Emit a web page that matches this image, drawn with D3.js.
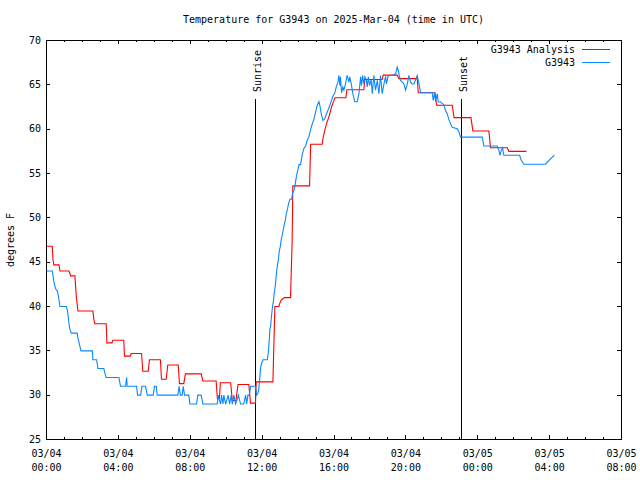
<!DOCTYPE html>
<html><head><meta charset="utf-8">
<script src="https://cdn.jsdelivr.net/npm/d3@7"></script>
<style>
body{margin:0;background:#fff}
svg{display:block}
text{font-family:"DejaVu Sans Mono","Liberation Mono",monospace;font-size:10px;fill:#000}
</style>
</head><body>
<svg id="c" width="640" height="480"></svg>
<script>
// ---- data (hours since 2025-03-04 00:00 UTC, temperature in °F) ----
const titleText = "Temperature for G3943 on 2025-Mar-04 (time in UTC)";
const yLabel = "degrees F";
const seriesNames = ["G3943 Analysis", "G3943"];
const seriesColors = ["#ff0000", "#0a88ff"];

const analysisHours = [0,0.32,0.36,0.41,0.69,0.75,1.25,1.31,1.34,1.58,1.66,1.75,2.58,2.64,2.69,3.32,3.36,3.65,3.69,4.30,4.34,4.66,4.71,5.29,5.36,5.66,5.73,6.34,6.40,6.66,6.75,7.33,7.40,7.64,7.73,8.61,8.70,9.44,9.51,9.62,9.68,10.25,10.34,10.54,10.66,11.26,11.35,11.63,11.67,12.60,12.71,12.93,12.99,13.06,13.16,13.27,13.58,13.67,13.71,14.64,14.70,15.34,15.40,15.49,15.58,15.72,15.86,16.00,16.06,16.66,16.72,17.66,17.72,18.68,18.74,19.52,19.61,20.63,20.69,21.62,21.71,22.58,22.68,23.62,23.73,24.62,24.71,25.64,25.73,26.71];
const analysisTemps = [46.8,46.8,45.3,44.7,44.7,44.0,44.0,43.7,43.45,43.45,41.1,39.5,39.5,38.5,38.05,38.05,35.9,35.9,36.2,36.2,34.4,34.4,34.7,34.7,32.7,32.7,34.0,34.0,31.8,31.8,33.4,33.4,31.3,31.3,32.4,32.4,31.6,31.6,29.6,29.6,31.4,31.4,29.4,29.4,31.2,31.2,29.1,29.1,31.5,31.5,40.0,40.0,40.4,40.7,40.9,41.0,41.0,47.3,53.6,53.6,58.3,58.3,59.1,59.9,60.6,61.4,62.5,63.25,63.55,63.55,64.45,64.45,65.6,65.6,66.1,66.1,65.7,65.7,64.1,64.1,62.7,62.7,61.3,61.3,59.8,59.8,57.9,57.9,57.5,57.5];

const obsHours = [0,0.32,0.37,0.41,0.47,0.52,0.60,0.65,0.71,0.75,1.10,1.16,1.20,1.23,1.27,1.33,1.38,1.71,1.75,1.80,1.86,1.92,2.55,2.58,2.79,2.86,3.19,3.31,4.03,4.12,4.40,4.46,4.49,5.01,5.07,5.24,5.31,5.51,5.61,5.94,6.01,6.11,6.16,7.31,7.38,7.45,7.55,7.61,7.68,7.92,7.98,8.35,8.42,8.61,8.70,9.50,9.56,9.61,9.69,9.74,9.82,9.87,9.97,10.11,10.19,10.28,10.34,10.43,10.52,10.61,10.68,10.80,10.98,11.08,11.14,11.21,11.29,11.36,11.63,11.69,11.77,11.82,11.88,11.91,11.97,12.05,12.29,12.34,12.40,12.43,12.47,12.52,12.58,12.64,12.67,12.73,12.78,12.84,12.90,12.95,13.01,13.06,13.12,13.17,13.23,13.29,13.34,13.42,13.47,13.55,13.64,13.71,13.77,13.82,13.86,13.92,13.99,14.05,14.14,14.23,14.32,14.42,14.51,14.60,14.69,14.79,14.88,14.97,15.07,15.16,15.21,15.29,15.38,15.47,15.56,15.66,15.77,15.86,15.96,16.05,16.12,16.22,16.27,16.33,16.36,16.42,16.49,16.55,16.64,16.73,16.83,16.88,16.96,17.05,17.15,17.29,17.39,17.48,17.53,17.59,17.66,17.72,17.80,17.85,17.91,17.98,18.07,18.13,18.22,18.31,18.41,18.50,18.59,18.68,18.78,18.87,18.92,19.00,19.07,19.24,19.43,19.52,19.58,19.63,19.70,19.80,19.89,19.98,20.08,20.17,20.26,20.35,20.45,20.63,20.73,20.82,21.47,21.52,21.60,21.65,21.75,21.80,21.93,22.11,22.21,22.30,22.39,22.49,22.58,22.86,22.95,23.04,24.25,24.34,25.08,25.18,25.23,25.31,25.38,25.45,25.55,26.33,26.42,26.57,27.76,28.26];
const obsTemps = [44,44,43.4,42.8,42.25,41.95,41.76,41.3,40.56,40,40,39.6,39.06,38.5,37.75,37.26,37,37,36.44,36,35.5,35,35,34,34,33,33,32,32,31,31,32,31,31,30,30,31,31,30,30,31,31,30,30,31,30,30,31,30,30,29,29,30,30,29,29,30,29.5,29,30,29,30,29,30,29,30,29,30,29,29.5,30,29,29,30,29,30,30,31,31,30,30.25,30.8,32.1,33.07,33.6,34,34,34.75,36.25,37.4,37.75,38.9,40,40.75,41.5,42.25,43.4,44.5,45.25,46.2,46.75,47.5,48.06,48.6,49.2,49.75,50.4,51.06,51.6,52.1,52.1,52.9,53.1,53.5,54.06,54.8,55.4,56,56,57.06,57.8,58.1,58.75,59.1,59.9,60.6,61.1,61.9,62.7,63.1,62.7,61.75,61,61.1,61.6,62.1,62.7,63.25,63.8,64.1,64.75,65.3,66.06,64.9,65.9,64.1,64.75,64.4,65.1,66.06,65.3,65.9,65.1,64,63.1,63.1,64,65.9,64.9,66.06,65.1,65.9,65.5,64.75,65.9,64.9,65.6,64,66.06,64.4,65.5,64,66.06,64,65.1,65.95,65.1,65.9,66.06,66.06,66.25,67,66.6,66.06,65.5,65.3,65.1,64.4,65.1,66.06,65.3,65.1,65.1,66.06,65.1,64.1,64.1,63.25,64.1,63.1,64,63.06,63.06,62.76,62.1,61.75,61.1,60.6,60.2,60.06,59.7,59.1,59.1,58.1,58.1,57.6,57.06,57.6,57.9,57.06,57.06,57.06,56.5,56.05,56.05,57.06];

const sunHours = [11.63, 23.1];
const sunLabels = ["Sunrise", "Sunset"];

const majorTickHours = [0,4,8,12,16,20,24,28,32];
const tickDateLabels = ["03/04","03/04","03/04","03/04","03/04","03/04","03/05","03/05","03/05"];
const tickTimeLabels = ["00:00","04:00","08:00","12:00","16:00","20:00","00:00","04:00","08:00"];
const minorTickHours = d3.range(0, 33, 1);
const yTickValues = [25,30,35,40,45,50,55,60,65,70];

// ---- drawing ----
const svg = d3.select("#c");
svg.append("rect").attr("width",640).attr("height",480).attr("fill","#fff");

const x = d3.scaleLinear().domain([0,32]).range([46,621]);
const y = d3.scaleLinear().domain([25,70]).range([439,40]);

const axesG = svg.append("g");
axesG.append("g").attr("transform","translate(0,439)")
  .call(d3.axisBottom(x).tickValues(minorTickHours).tickSize(-2).tickFormat(""))
  .call(g=>g.select(".domain").remove());
axesG.append("g").attr("transform","translate(0,40)")
  .call(d3.axisTop(x).tickValues(minorTickHours).tickSize(-2).tickFormat(""))
  .call(g=>g.select(".domain").remove());
const xb = axesG.append("g").attr("transform","translate(0,439)")
  .call(d3.axisBottom(x).tickValues(majorTickHours).tickSize(-4).tickFormat((d,i)=>tickDateLabels[i]))
  .call(g=>g.select(".domain").remove());
xb.selectAll(".tick text").each(function(d,i){
  const t = d3.select(this);
  t.text(null).attr("y",null).attr("dy",null);
  t.append("tspan").attr("x",0).attr("y",18).text(tickDateLabels[i]);
  t.append("tspan").attr("x",0).attr("y",32).text(tickTimeLabels[i]);
});
axesG.append("g").attr("transform","translate(0,40)")
  .call(d3.axisTop(x).tickValues(majorTickHours).tickSize(-4).tickFormat(""))
  .call(g=>g.select(".domain").remove());
axesG.append("g").attr("transform","translate(46,0)")
  .call(d3.axisLeft(y).tickValues(yTickValues).tickSize(-4).tickPadding(5))
  .call(g=>g.select(".domain").remove());
axesG.append("g").attr("transform","translate(621,0)")
  .call(d3.axisRight(y).tickValues(yTickValues).tickSize(-4).tickFormat(""))
  .call(g=>g.select(".domain").remove());
axesG.selectAll(".tick line").attr("stroke","#000").attr("shape-rendering","crispEdges");
axesG.selectAll("g").attr("font-family",null).attr("font-size",null);
axesG.selectAll("text").attr("fill","#000");

svg.append("rect").attr("x",46.5).attr("y",40.5).attr("width",575).attr("height",399)
  .attr("fill","none").attr("stroke","#000").attr("shape-rendering","crispEdges");

sunHours.forEach((h,i)=>{
  const sx = Math.round(x(h)) + 0.5;
  svg.append("line").attr("x1",sx).attr("x2",sx).attr("y1",99).attr("y2",439)
    .attr("stroke","#000").attr("stroke-width",1).attr("shape-rendering","crispEdges");
  svg.append("text").attr("transform",`translate(${sx+5},92) rotate(-90)`)
    .attr("text-anchor","start").text(sunLabels[i]);
});

const line = d3.line().x(d=>x(d[0])+0.5).y(d=>y(d[1])+0.5);
const analysisData = analysisHours.map((h,i)=>[h, analysisTemps[i]]);
const obsData = obsHours.map((h,i)=>[h, obsTemps[i]]);
svg.append("path").datum(analysisData).attr("d",line)
  .attr("fill","none").attr("stroke",seriesColors[0]).attr("stroke-width",1.1);
svg.append("path").datum(obsData).attr("d",line)
  .attr("fill","none").attr("stroke",seriesColors[1]).attr("stroke-width",1.1);

svg.append("text").attr("x",(46+621)/2).attr("y",23).attr("text-anchor","middle").text(titleText);
svg.append("text").attr("transform","translate(14,240) rotate(-90)").attr("text-anchor","middle").text(yLabel);

seriesNames.forEach((n,i)=>{
  const ly = 49.5 + i*13;
  svg.append("text").attr("x",575).attr("y",ly+3.5).attr("text-anchor","end").text(n);
  svg.append("line").attr("x1",582).attr("x2",610).attr("y1",ly).attr("y2",ly)
    .attr("stroke",seriesColors[i]).attr("stroke-width",1).attr("shape-rendering","crispEdges");
});
</script>
</body></html>
